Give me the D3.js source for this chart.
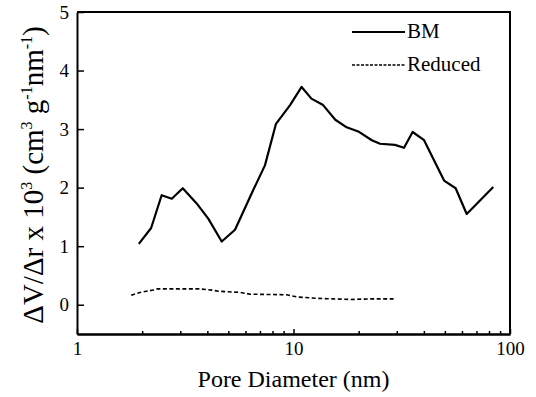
<!DOCTYPE html>
<html>
<head>
    <meta charset="UTF-8">
    <title></title>
    <script src="https://cdn.jsdelivr.net/npm/d3@7"></script>
    <style>
        body{
            padding: 0;
            margin: 0;
            background: #fff;
        }
        .axis path,
        .axis line{
            fill: none;
            stroke: #000;
        }
        .axis path{
            stroke-width: 2;
        }
        .axis line{
            stroke-width: 1.5;
        }
    </style>
</head>
<body>
<div class="first"></div>

<script>

    // BM curve
    var bmDiameter = [1.93, 2.20, 2.46, 2.74, 3.08, 3.57, 4.04, 4.66, 5.37, 6.5, 7.38, 8.3, 9.64, 10.9, 12.1,
        13.7, 15.6, 17.6, 19.9, 23.0, 25.1, 29.4, 32.4, 35.5, 40.1, 49.6, 56.1, 63.1, 83.7];
    var bmValues = [1.04, 1.31, 1.87, 1.81, 1.99, 1.73, 1.47, 1.08, 1.28, 1.95, 2.38, 3.09, 3.41, 3.72, 3.52,
        3.41, 3.16, 3.03, 2.96, 2.81, 2.75, 2.73, 2.68, 2.95, 2.81, 2.12, 1.99, 1.55, 2.01];

    // Reduced curve
    var redDiameter = [1.78, 1.95, 2.25, 2.35, 3.7, 4.2, 4.5, 5.7, 6.3, 9.3, 10.5, 12.8, 15.2, 18.3, 23, 29];
    var redValues = [0.16, 0.21, 0.25, 0.27, 0.27, 0.25, 0.23, 0.21, 0.18, 0.17, 0.13, 0.11, 0.10, 0.09, 0.10, 0.10];

    var xTicks = [1, 10, 100];
    var xMinorTicks = [2, 3, 4, 5, 6, 7, 8, 9, 20, 30, 40, 50, 60, 70, 80, 90];
    var yTicks = [0, 1, 2, 3, 4, 5];
    var legendLabels = ["BM", "Reduced"];

    var serif = "'Liberation Serif', 'DejaVu Serif', serif";
    var width = 536, height = 397;
    var plotLeft = 77, plotRight = 510, plotTop = 12, plotBottom = 334;

    var svg = d3.select(".first")
        .append("svg")
        .attr("width", width)
        .attr("height", height)
        .style("font-family", serif);

    var x = d3.scaleLog().domain([1, 100]).range([plotLeft, plotRight]);
    var y = d3.scaleLinear().domain([-0.5, 5]).range([plotBottom, plotTop]);

    // frame (top + right)
    svg.append("path")
        .attr("d", "M" + plotLeft + "," + plotTop + "H" + plotRight + "V" + plotBottom)
        .attr("fill", "none")
        .attr("stroke", "#000")
        .attr("stroke-width", 2);

    // x axis, ticks pointing inward
    var xAxis = d3.axisBottom(x)
        .tickValues(xTicks)
        .tickFormat(d3.format("d"))
        .tickSizeInner(-5)
        .tickSizeOuter(0)
        .tickPadding(8);

    var xMinor = d3.axisBottom(x)
        .tickValues(xMinorTicks)
        .tickFormat("")
        .tickSizeInner(-3)
        .tickSizeOuter(0);

    svg.append("g")
        .attr("class", "axis")
        .attr("transform", "translate(0," + plotBottom + ")")
        .call(xMinor);

    svg.append("g")
        .attr("class", "axis")
        .attr("transform", "translate(0," + plotBottom + ")")
        .call(xAxis);

    var yAxis = d3.axisLeft(y)
        .tickValues(yTicks)
        .tickFormat(d3.format("d"))
        .tickSizeInner(-7)
        .tickSizeOuter(0)
        .tickPadding(8);

    svg.append("g")
        .attr("class", "axis")
        .attr("transform", "translate(" + plotLeft + ",0)")
        .call(yAxis);

    svg.selectAll(".axis")
        .attr("font-family", serif)
        .attr("font-size", 19);

    // curves
    var bm = bmDiameter.map(function(d, i){ return [d, bmValues[i]]; });
    var red = redDiameter.map(function(d, i){ return [d, redValues[i]]; });

    var line = d3.line()
        .x(function(d){ return x(d[0]); })
        .y(function(d){ return y(d[1]); });

    svg.append("path")
        .datum(bm)
        .attr("d", line)
        .attr("fill", "none")
        .attr("stroke", "#000")
        .attr("stroke-width", 2.2)
        .attr("stroke-linejoin", "round");

    svg.append("path")
        .datum(red)
        .attr("d", line)
        .attr("fill", "none")
        .attr("stroke", "#000")
        .attr("stroke-width", 1.6)
        .attr("stroke-dasharray", "4,2.5");

    // legend
    var legend = svg.selectAll(".legend")
        .data(legendLabels)
        .enter()
        .append("g")
        .attr("class", "legend")
        .attr("transform", function(d, i){
            return "translate(352," + (32 + i * 33) + ")";
        });

    legend.append("line")
        .attr("x1", 0)
        .attr("x2", 53)
        .attr("stroke", "#000")
        .attr("stroke-width", function(d, i){ return i === 0 ? 2.2 : 1.3; })
        .attr("stroke-dasharray", function(d, i){ return i === 0 ? null : "3,1.5"; });

    legend.append("text")
        .attr("x", 55)
        .attr("y", 6)
        .style("font-family", serif)
        .style("font-size", "21px")
        .text(function(d){ return d; });

    // axis titles
    svg.append("text")
        .attr("x", (plotLeft + plotRight) / 2)
        .attr("y", 387)
        .attr("text-anchor", "middle")
        .style("font-family", serif)
        .style("font-size", "24px")
        .text("Pore Diameter (nm)");

    var yTitle = svg.append("text")
        .attr("transform", "translate(43," + 175 + ") rotate(-90)")
        .attr("text-anchor", "middle")
        .style("font-family", serif)
        .style("font-size", "29px");

    var parts = [
        ["\u0394V/\u0394r  x 10", false],
        ["3", true],
        [" (cm", false],
        ["3", true],
        [" g", false],
        ["-1", true],
        ["nm", false],
        ["-1", true],
        [")", false]
    ];

    parts.forEach(function(p, i){
        var prevSup = i > 0 && parts[i - 1][1];
        yTitle.append("tspan")
            .attr("dy", p[1] ? -11 : (prevSup ? 11 : 0))
            .style("font-size", p[1] ? "16px" : "29px")
            .text(p[0]);
    });

</script>
</body>
</html>
